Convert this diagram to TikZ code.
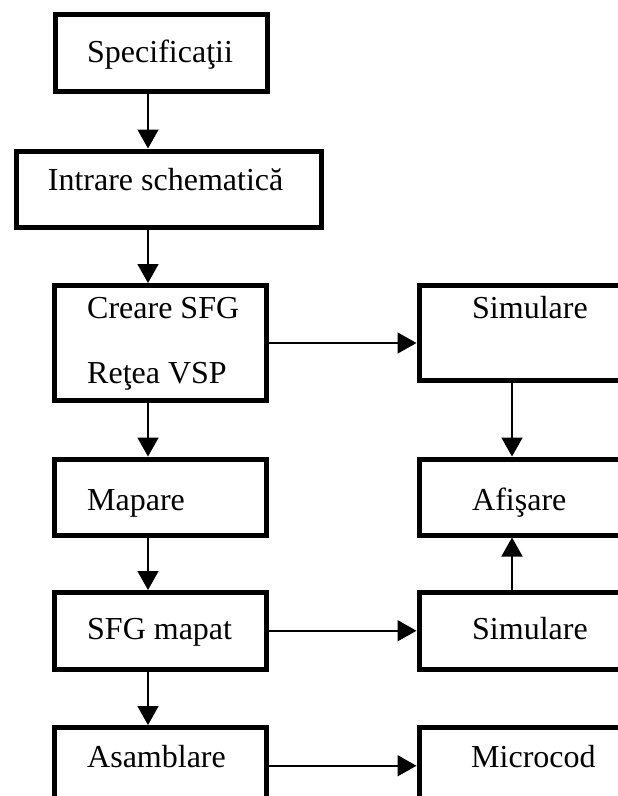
\documentclass[tikz,border=0pt]{standalone}
\usepackage{fontspec}
\setmainfont{Liberation Serif}
\usetikzlibrary{arrows.meta}

\begin{document}
\begin{tikzpicture}[x=1pt,y=-1pt,
  box/.style={draw, line width=5pt, inner sep=0pt, anchor=north west},
  lbl/.style={anchor=base west, inner sep=0pt, font=\fontsize{32}{38}\selectfont},
  arr/.style={line width=1.6pt, -{Triangle[length=19pt,width=21pt]}}]
\useasboundingbox (0,0) rectangle (618,796);
\clip (0,0) rectangle (618,796);

% column guides for the vertical connectors
\coordinate (cx) at (148,0);
\coordinate (rx) at (512,0);

% left column
\node[box, minimum width=212pt, minimum height=76.5pt] (b1) at (52.5,12) {};
\node[box, minimum width=305pt, minimum height=76pt]   (b2) at (13.5,148.5) {};
\node[box, minimum width=212pt, minimum height=115pt]  (b3) at (51.5,283) {};
\node[box, minimum width=212pt, minimum height=76pt]   (b4) at (51.5,456.5) {};
\node[box, minimum width=212pt, minimum height=76.5pt] (b5) at (51.5,590) {};
\node[box, minimum width=212pt, minimum height=76.5pt] (b6) at (51.5,725) {};

% right column
\node[box, minimum width=212pt, minimum height=95pt]   (r1) at (416.5,283) {};
\node[box, minimum width=212pt, minimum height=76pt]   (r2) at (416.5,456.5) {};
\node[box, minimum width=212pt, minimum height=76.5pt] (r3) at (416.5,590) {};
\node[box, minimum width=212pt, minimum height=76.5pt] (r4) at (416.5,725) {};

% labels
\node[lbl] (t1)  at (87,62)    {Specificaţii};
\node[lbl] (t2)  at (47.7,190) {Intrare schematică};
\node[lbl] (t3a) at (87,318)   {Creare SFG};
\node[lbl] (t3b) at (87,383)   {Reţea VSP};
\node[lbl] (t4)  at (87,510)   {Mapare};
\node[lbl] (t5)  at (87,639)   {SFG mapat};
\node[lbl] (t6)  at (87,767)   {Asamblare};
\node[lbl] (u1)  at (472,318)  {Simulare};
\node[lbl] (u2)  at (472,510)  {Afişare};
\node[lbl] (u3)  at (472,639)  {Simulare};
\node[lbl] (u4)  at (471,767)  {Microcod};

% vertical flow, left column
\draw[arr] (b1.south -| cx) -- (b2.north -| cx);
\draw[arr] (b2.south -| cx) -- (b3.north -| cx);
\draw[arr] (b3.south -| cx) -- (b4.north -| cx);
\draw[arr] (b4.south -| cx) -- (b5.north -| cx);
\draw[arr] (b5.south -| cx) -- (b6.north -| cx);

% horizontal flow to the right column
\draw[arr] (b3.east) -- (b3.east -| r1.west);
\draw[arr] (b5.east) -- (b5.east -| r3.west);
\draw[arr] (b6.east) -- (b6.east -| r4.west);

% right column
\draw[arr] (r1.south -| rx) -- (r2.north -| rx);
\draw[arr] (r3.north -| rx) -- (r2.south -| rx);
\end{tikzpicture}
\end{document}
